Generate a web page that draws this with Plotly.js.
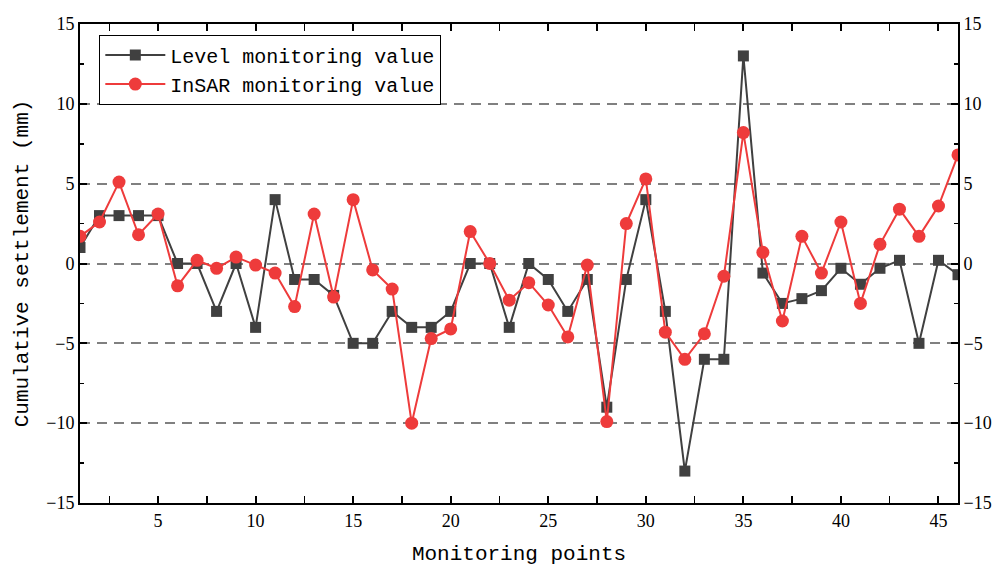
<!DOCTYPE html>
<html>
<head>
<meta charset="utf-8">
<script src="https://cdn.plot.ly/plotly-3.0.1.min.js"></script>
<style>html,body{margin:0;padding:0;background:#fff;}#chart{width:1000px;height:567px;}</style>
</head>
<body>
<div id="chart"></div>
<script>
var points = [];
for (var i = 1; i <= 46; i++) points.push(i);
var levelValues = [1, 3, 3, 3, 3, 0, 0, -3, 0, -4,
  4, -1, -1, -2, -5, -5, -3, -4, -4, -3,
  0, 0, -4, 0, -1, -3, -1, -9, -1, 4,
  -3, -13, -6, -6, 13, -0.6, -2.5, -2.2, -1.7, -0.3,
  -1.3, -0.3, 0.2, -5, 0.2, -0.7];
var insarValues = [1.7, 2.6, 5.1, 1.8, 3.1, -1.4, 0.2, -0.3, 0.4, -0.1,
  -0.6, -2.7, 3.1, -2.1, 4.0, -0.4, -1.6, -10, -4.7, -4.1,
  2.0, 0, -2.3, -1.2, -2.6, -4.6, -0.1, -9.9, 2.5, 5.3,
  -4.3, -6, -4.4, -0.8, 8.2, 0.7, -3.6, 1.7, -0.6, 2.6,
  -2.5, 1.2, 3.4, 1.7, 3.6, 6.8];
var seriesNames = ["Level monitoring value", "InSAR monitoring value"];
var xTitle = "Monitoring points";
var yTitle = "Cumulative settlement (mm)";

var txtFont = "Liberation Mono, monospace";
var numFont = "Liberation Serif, serif";
var traces = [
  {x: points, y: levelValues, name: seriesNames[0], type: "scatter", mode: "lines+markers",
   line: {color: "#404040", width: 2}, marker: {symbol: "square", size: 11, color: "#404040"}},
  {x: points, y: insarValues, name: seriesNames[1], type: "scatter", mode: "lines+markers",
   line: {color: "#EE3B3B", width: 2}, marker: {symbol: "circle", size: 13, color: "#EE3B3B"}},
  {x: [points[0]], y: [null], yaxis: "y2", showlegend: false, hoverinfo: "skip", type: "scatter", mode: "markers"}
];
var axisCommon = {
  showline: true, linecolor: "#000", linewidth: 2,
  ticks: "inside", ticklen: 7, tickwidth: 2, tickcolor: "#000",
  zeroline: false,
  tickfont: {family: numFont, size: 18, color: "#000"}
};
var layout = {
  width: 1000, height: 567,
  margin: {l: 80, r: 42, t: 24, b: 64},
  paper_bgcolor: "#fff", plot_bgcolor: "#fff",
  showlegend: true,
  legend: {x: 0.022, y: 0.978, xanchor: "left", yanchor: "top",
    bgcolor: "#fff", bordercolor: "#000", borderwidth: 1, itemwidth: 60,
    font: {family: txtFont, size: 20, color: "#000"}, tracegroupgap: 0},
  xaxis: Object.assign({}, axisCommon, {
    range: [1, 46], tick0: 0, dtick: 5, showgrid: false, mirror: "allticks",
    minor: {dtick: 2.5, tick0: 0, ticklen: 4, tickwidth: 1.5, tickcolor: "#000", ticks: "inside"},
    title: {text: xTitle, font: {family: txtFont, size: 21, color: "#000"}, standoff: 16}
  }),
  yaxis: Object.assign({}, axisCommon, {
    range: [-15, 15], tick0: 0, dtick: 5, showgrid: true,
    gridcolor: "#808080", gridwidth: 2, griddash: "10px,7px",
    minor: {dtick: 2.5, tick0: 0, ticklen: 4, tickwidth: 1.5, tickcolor: "#000", ticks: "inside", showgrid: false},
    title: {text: yTitle, font: {family: txtFont, size: 21, color: "#000"}, standoff: 12}
  }),
  yaxis2: Object.assign({}, axisCommon, {
    range: [-15, 15], tick0: 0, dtick: 5, showgrid: false,
    overlaying: "y", side: "right",
    minor: {dtick: 2.5, tick0: 0, ticklen: 4, tickwidth: 1.5, tickcolor: "#000", ticks: "inside"}
  })
};
Plotly.newPlot("chart", traces, layout, {displayModeBar: false, staticPlot: true});
</script>
</body>
</html>
